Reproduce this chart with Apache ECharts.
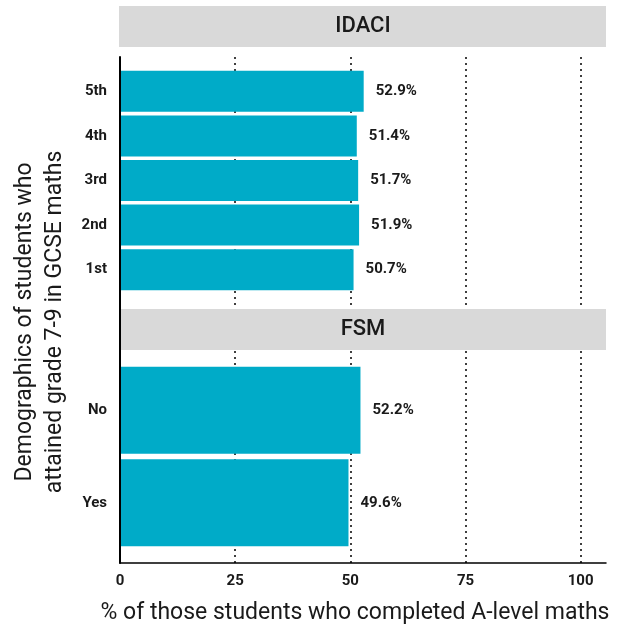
<!DOCTYPE html>
<html>
<head>
<meta charset="utf-8">
<script src="https://cdn.jsdelivr.net/npm/echarts@6/dist/echarts.min.js"></script>
<style>
  html, body { margin: 0; padding: 0; background: #fff; }
  #chart { width: 624px; height: 630px; }
</style>
</head>
<body>
<div id="chart"></div>
<script>
// IDACI quintiles (bottom to top) and FSM groups
var idaciCats = ['1st', '2nd', '3rd', '4th', '5th'];
var idaciVals = [50.7, 51.9, 51.7, 51.4, 52.9];
var fsmCats = ['Yes', 'No'];
var fsmVals = [49.6, 52.2];

var FONT = 'Roboto';
var BAR = '#00abc8';
var XMAX = 105.5;
var myChart = echarts.init(document.getElementById('chart'));

var labelCfg = {
	show : true,
	position : 'right',
	distance : 12,
	formatter : '{c}%',
	fontFamily : FONT,
	fontSize : 15,
	fontWeight : 'bold',
	color : '#1a1a1a'
};

function strip(top, h, txt) {
	return {
		type : 'group',
		children : [ {
			type : 'rect',
			z : 50,
			shape : { x : 119, y : top, width : 487, height : h },
			style : { fill : '#d9d9d9' }
		}, {
			type : 'text',
			z : 51,
			x : 363,
			y : top + h / 2,
			style : {
				text : txt,
				fontFamily : FONT,
				fontSize : 22,
				fontWeight : 500,
				fill : '#1a1a1a',
				textAlign : 'center',
				textVerticalAlign : 'middle'
			}
		} ]
	};
}

var option = {
	animation : false,
	grid : [
		{ left : 120, right : 18, top : 57, bottom : 65 },        // frame
		{ left : 120, right : 18, top : 69, height : 223 },       // IDACI bars
		{ left : 120, right : 18, top : 364, height : 185 }       // FSM bars
	],
	xAxis : [ {
		gridIndex : 0,
		type : 'value',
		min : 0,
		max : XMAX,
		interval : 25,
		z : 0,
		axisLine : { show : true, lineStyle : { color : '#000', width : 1.5 } },
		axisTick : { show : false },
		axisLabel : {
			margin : 11,
			fontFamily : FONT,
			fontSize : 15,
			fontWeight : 'bold',
			color : '#1a1a1a',
			showMaxLabel : false
		},
		splitLine : {
			show : true,
			showMinLine : false,
			showMaxLine : false,
			lineStyle : { color : '#000', type : [2, 4], width : 1.5 }
		},
		name : '% of those students who completed A-level maths',
		nameLocation : 'middle',
		nameGap : 39,
		nameTextStyle : {
			fontFamily : FONT,
			fontSize : 23,
			color : '#1a1a1a',
			padding : [0, 16, 0, 0]
		}
	}, {
		gridIndex : 1, type : 'value', min : 0, max : XMAX, show : false
	}, {
		gridIndex : 2, type : 'value', min : 0, max : XMAX, show : false
	} ],
	yAxis : [ {
		gridIndex : 0,
		type : 'value',
		z : 100,
		axisLine : { show : true, lineStyle : { color : '#000', width : 2 } },
		axisTick : { show : false },
		axisLabel : { show : false },
		splitLine : { show : false }
	}, {
		gridIndex : 1,
		type : 'category',
		data : idaciCats,
		axisLine : { show : false },
		axisTick : { show : false },
		axisLabel : { margin : 13, fontFamily : FONT, fontSize : 15, fontWeight : 'bold', color : '#1a1a1a' }
	}, {
		gridIndex : 2,
		type : 'category',
		data : fsmCats,
		axisLine : { show : false },
		axisTick : { show : false },
		axisLabel : { margin : 13, fontFamily : FONT, fontSize : 15, fontWeight : 'bold', color : '#1a1a1a' }
	} ],
	series : [ {
		type : 'bar',
		xAxisIndex : 1,
		yAxisIndex : 1,
		data : idaciVals,
		barWidth : 41,
		itemStyle : { color : BAR },
		label : labelCfg
	}, {
		type : 'bar',
		xAxisIndex : 2,
		yAxisIndex : 2,
		data : fsmVals,
		barWidth : 87,
		itemStyle : { color : BAR },
		label : labelCfg
	} ],
	graphic : [
		strip(6, 41, 'IDACI'),
		strip(309, 41, 'FSM'),
		{
			type : 'text',
			x : 40,
			y : 322,
			rotation : Math.PI / 2,
			style : {
				text : 'Demographics of students who\nattained grade 7-9 in GCSE maths',
				fontFamily : FONT,
				fontSize : 23,
				lineHeight : 30,
				fill : '#1a1a1a',
				textAlign : 'center',
				textVerticalAlign : 'middle'
			}
		}
	]
};
myChart.setOption(option);
</script>
</body>
</html>
